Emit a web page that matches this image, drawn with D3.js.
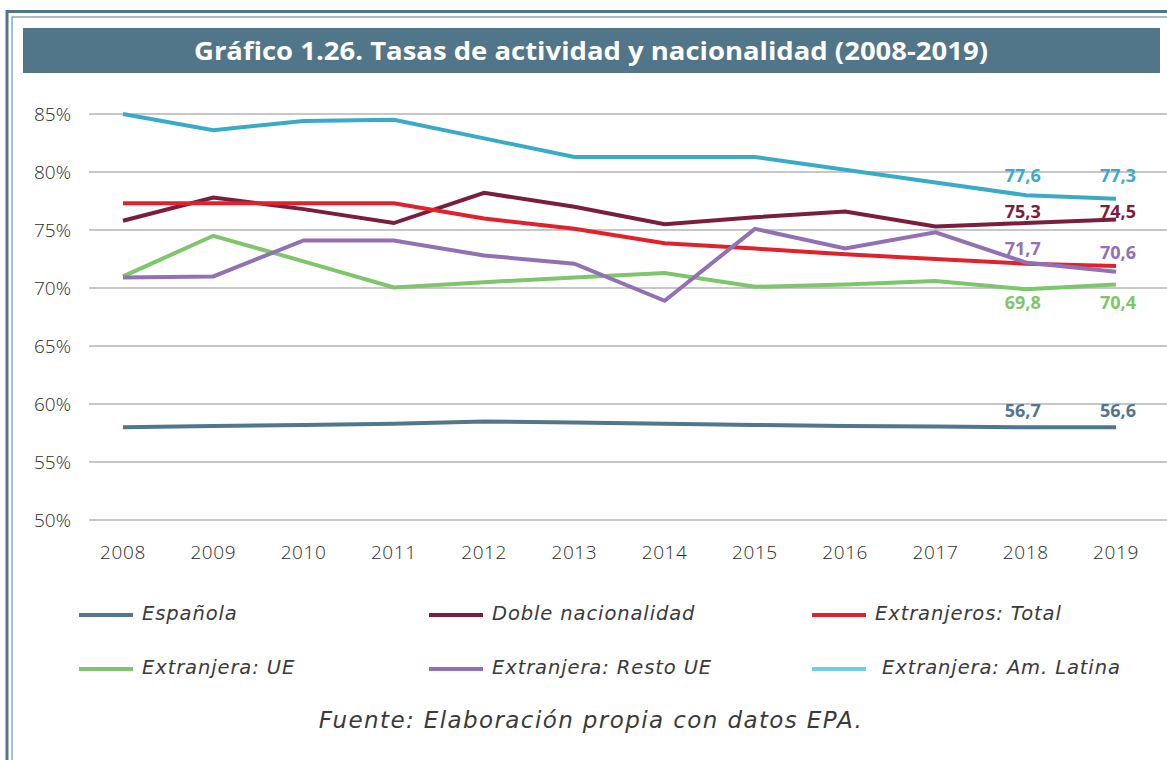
<!DOCTYPE html>
<html>
<head>
<meta charset="utf-8">
<script src="https://cdn.jsdelivr.net/npm/d3@7"></script>
<style>
  body { margin: 0; background: #fff; }
  svg { display: block; }
  .tick-y, .tick-x { font-family: "Open Sans", Lato, sans-serif; font-weight: 300; font-size: 19px; fill: #2b2b2b; }
  .tick-x { letter-spacing: 0.6px; }
  .vlabel { font-family: "Open Sans", Lato, sans-serif; font-weight: 700; font-size: 18px; }
  .leg { font-family: "DejaVu Sans", sans-serif; font-weight: 300; font-style: italic; font-size: 19.5px; letter-spacing: 0.9px; fill: #3a3a3a; }
</style>
</head>
<body>
<script>
// -------- DATA --------
var years = [2008, 2009, 2010, 2011, 2012, 2013, 2014, 2015, 2016, 2017, 2018, 2019];
var yTicks = [50, 55, 60, 65, 70, 75, 80, 85];

var espanola   = [58.0, 58.1, 58.2, 58.3, 58.5, 58.4, 58.3, 58.2, 58.1, 58.05, 58.0, 58.0];
var doble      = [75.8, 77.8, 76.8, 75.6, 78.2, 77.0, 75.5, 76.1, 76.6, 75.3, 75.6, 75.9];
var extTotal   = [77.3, 77.3, 77.3, 77.3, 76.0, 75.1, 73.85, 73.4, 72.9, 72.5, 72.1, 71.9];
var extUE      = [71.0, 74.5, 72.3, 70.05, 70.5, 70.9, 71.3, 70.1, 70.3, 70.6, 69.9, 70.3];
var extResto   = [70.9, 71.0, 74.1, 74.1, 72.8, 72.1, 68.9, 75.1, 73.4, 74.8, 72.2, 71.4];
var extLatina  = [85.0, 83.6, 84.4, 84.5, 82.9, 81.3, 81.3, 81.3, 80.2, 79.1, 78.0, 77.7];

// value labels printed on the chart (2018, 2019)
var labelYears = [2018, 2019];
var lblEspanola = ["56,7", "56,6"];
var lblDoble    = ["75,3", "74,5"];
var lblUE       = ["69,8", "70,4"];
var lblResto    = ["71,7", "70,6"];
var lblLatina   = ["77,6", "77,3"];

var legendNames = ["Española", "Doble nacionalidad", "Extranjeros: Total",
                   "Extranjera: UE", "Extranjera: Resto UE", " Extranjera: Am. Latina"];

var title = "Gráfico 1.26. Tasas de actividad y nacionalidad (2008-2019)";
var source = "Fuente: Elaboración propia con datos EPA.";

// -------- SERIES --------
var series = [
  { name: legendNames[0], values: espanola,  color: "#52768b", legColor: "#52768b", labels: lblEspanola, dy: [-10, -10] },
  { name: legendNames[1], values: doble,     color: "#7a1d3e", legColor: "#7a1d3e", labels: lblDoble,    dy: [-5, -2] },
  { name: legendNames[2], values: extTotal,  color: "#e2222b", legColor: "#e2222b", labels: null,        dy: null },
  { name: legendNames[3], values: extUE,     color: "#7ec66b", legColor: "#7ec66b", labels: lblUE,       dy: [20, 24] },
  { name: legendNames[4], values: extResto,  color: "#9170b4", legColor: "#9170b4", labels: lblResto,    dy: [-7, -13] },
  { name: legendNames[5], values: extLatina, color: "#3aabc6", legColor: "#6dcdea", labels: lblLatina,   dy: [-13, -17] }
];

var W = 1167, H = 760;
var svg = d3.select("body").append("svg").attr("width", W).attr("height", H);

// frame (double line, top & left)
svg.append("line").attr("x1", 6).attr("x2", W).attr("y1", 11.5).attr("y2", 11.5)
  .attr("stroke", "#52758a").attr("stroke-width", 3);
svg.append("line").attr("x1", 12).attr("x2", W).attr("y1", 17).attr("y2", 17)
  .attr("stroke", "#8ea7b6").attr("stroke-width", 1.5);
svg.append("line").attr("x1", 7).attr("x2", 7).attr("y1", 10).attr("y2", H)
  .attr("stroke", "#52758a").attr("stroke-width", 3);
svg.append("line").attr("x1", 12).attr("x2", 12).attr("y1", 16.5).attr("y2", H)
  .attr("stroke", "#8ea7b6").attr("stroke-width", 1.5);

// title bar
svg.append("rect").attr("x", 23).attr("y", 28).attr("width", 1137).attr("height", 45)
  .attr("fill", "#517589");
svg.append("text").attr("x", 591).attr("y", 60)
  .attr("text-anchor", "middle")
  .attr("textLength", 794).attr("lengthAdjust", "spacingAndGlyphs")
  .style("font-family", "'Open Sans', Lato, sans-serif")
  .style("font-weight", 700).style("font-size", "25px").style("fill", "#fff")
  .text(title);

// -------- SCALES --------
var x = d3.scalePoint().domain(years).range([123, 1116]);
var y = d3.scaleLinear().domain([50, 85]).range([520, 114]);

// grid
svg.append("g").selectAll("line").data(yTicks).enter().append("line")
  .attr("x1", 89).attr("x2", W)
  .attr("y1", function(d) { return y(d); }).attr("y2", function(d) { return y(d); })
  .attr("stroke", "#b4b4b4").attr("stroke-width", 1.5);

svg.append("g").selectAll("text").data(yTicks).enter().append("text")
  .attr("class", "tick-y")
  .attr("x", 71).attr("y", function(d) { return y(d); }).attr("dy", "0.36em")
  .attr("text-anchor", "end")
  .text(function(d) { return d + "%"; });

svg.append("g").selectAll("text").data(years).enter().append("text")
  .attr("class", "tick-x")
  .attr("x", function(d) { return x(d); }).attr("y", 559)
  .attr("text-anchor", "middle")
  .text(function(d) { return d; });

// -------- LINES --------
var line = d3.line()
  .x(function(d, i) { return x(years[i]); })
  .y(function(d) { return y(d); });

series.forEach(function(s) {
  svg.append("path")
    .datum(s.values)
    .attr("d", line)
    .attr("fill", "none")
    .attr("stroke", s.color)
    .attr("stroke-width", 4)
    .attr("stroke-linejoin", "miter");
});

// value labels
series.forEach(function(s) {
  if (!s.labels) return;
  labelYears.forEach(function(yr, k) {
    var i = years.indexOf(yr);
    svg.append("text")
      .attr("class", "vlabel")
      .attr("x", x(yr) + (k == 0 ? -3 : 2))
      .attr("y", y(s.values[i]) + s.dy[k])
      .attr("text-anchor", "middle")
      .style("fill", s.color)
      .text(s.labels[k]);
  });
});

// -------- LEGEND --------
var colX = [79, 429, 812];
var rowY = [615, 669];
series.forEach(function(s, i) {
  var cx = colX[i % 3], cy = rowY[Math.floor(i / 3)];
  svg.append("line").attr("x1", cx).attr("x2", cx + 54)
    .attr("y1", cy).attr("y2", cy)
    .attr("stroke", s.legColor).attr("stroke-width", 4);
  svg.append("text").attr("class", "leg")
    .attr("x", cx + 63).attr("y", cy - 2).attr("dy", "0.35em")
    .attr("xml:space", "preserve")
    .text(s.name);
});

// source
svg.append("text").attr("x", 591).attr("y", 728)
  .attr("text-anchor", "middle")
  .style("font-family", "'DejaVu Sans', sans-serif")
  .style("font-weight", 300).style("font-style", "italic")
  .style("font-size", "23px").style("letter-spacing", "1.4px").style("fill", "#3a3a3a")
  .text(source);
</script>
</body>
</html>
